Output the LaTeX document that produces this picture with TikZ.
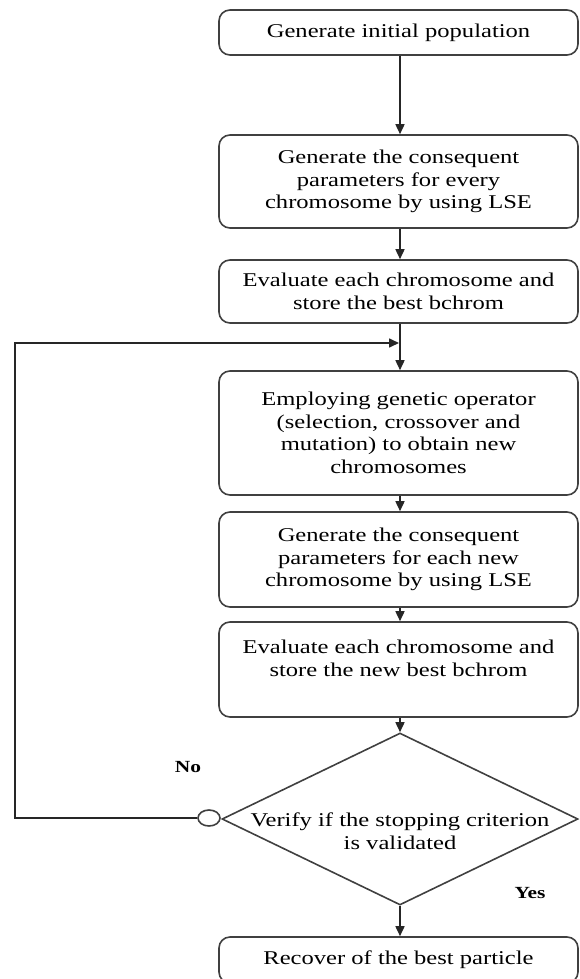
\documentclass[tikz,border=0pt]{standalone}
\usepackage{fontspec}
\setmainfont[FakeStretch=1.26]{Liberation Serif}
\usetikzlibrary{shapes.geometric,arrows.meta}
\begin{document}
\begin{tikzpicture}[x=1pt,y=-1pt,
  box/.style={draw=black!75, line width=1.6pt, rounded corners=11pt, minimum width=359pt, align=center, inner sep=0pt, font=\fontsize{19.5}{22.5}\selectfont, text=black},
  dec/.style={diamond, draw=black!75, line width=1.6pt, inner sep=0pt, minimum width=356pt, minimum height=172pt},
  dtxt/.style={align=center, inner sep=0pt, font=\fontsize{19.5}{22.5}\selectfont, text=black},
  arr/.style={-{Triangle[length=10pt,width=9pt]}, line width=1.6pt, draw=black!85},
  lbl/.style={font=\fontsize{17}{20}\selectfont\bfseries, text=black, inner sep=0pt}]
\useasboundingbox (0,0) rectangle (579,979);
\clip (0,0) rectangle (579,979);

\node[box, minimum height=45pt] (b1) at (398.5,32.5) {Generate initial population};
\node[box, minimum height=93pt] (b2) at (398.5,181.5) {Generate the consequent\\parameters for every\\chromosome by using LSE};
\node[box, minimum height=63pt] (b3) at (398.5,291.5) {Evaluate each chromosome and\\store the best bchrom};
\node[box, minimum height=124pt] (b4) at (398.5,433) {Employing genetic operator\\(selection, crossover and\\mutation) to obtain new\\chromosomes};
\node[box, minimum height=95pt] (b5) at (398.5,559.5) {Generate the consequent\\parameters for each new\\chromosome by using LSE};
\node[box, minimum height=95pt] (b6) at (398.5,669.5) {Evaluate each chromosome and\\store the new best bchrom\\\mbox{}};
\node[dec] (d) at (400,819) {};
\node[dtxt] (dt) at (400,831) {Verify if the stopping criterion\\is validated};
\node[box, minimum height=46pt] (b7) at (398.5,960) {Recover of the best particle};
\node[ellipse, draw=black!75, line width=1.6pt, minimum width=22pt, minimum height=16pt, inner sep=0pt] (c) at (209,818) {};

\node[lbl] (no) at (188,767) {No};
\node[lbl] (yes) at (530,893) {Yes};

\coordinate (j) at (400,343);
\coordinate (lc) at (15,343);

\draw[arr] (b1.south -| j) -- (b2.north -| j);
\draw[arr] (b2.south -| j) -- (b3.north -| j);
\draw[arr] (b3.south -| j) -- (b4.north -| j);
\draw[arr, shorten >=1pt] (c.west) -| (lc) -- (j);
\draw[arr] (b4.south -| j) -- (b5.north -| j);
\draw[arr] (b5.south -| j) -- (b6.north -| j);
\draw[arr] (b6.south -| j) -- (d.north);
\draw[arr] (d.south) -- (b7.north -| j);
\end{tikzpicture}
\end{document}
